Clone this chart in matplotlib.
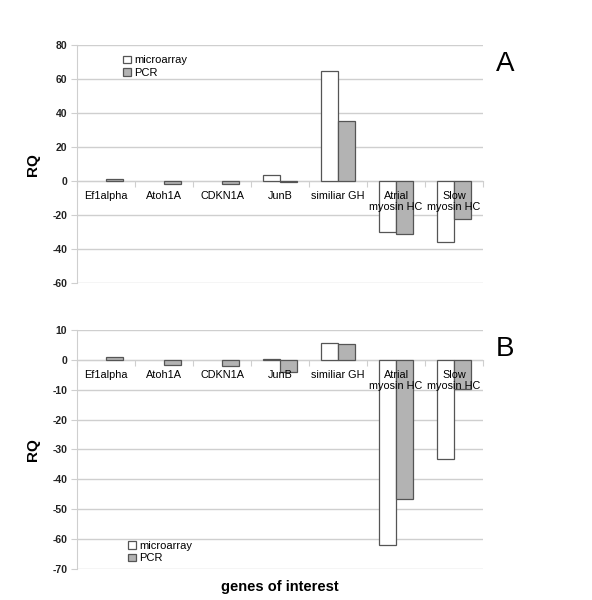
import numpy as np
import matplotlib
matplotlib.use("Agg")
import matplotlib.pyplot as plt
from matplotlib.patches import Patch

plt.rcParams['font.family'] = ['Liberation Sans', 'DejaVu Sans']

# --- Data ---
genes = ["Ef1alpha", "Atoh1A", "CDKN1A", "JunB", "similiar GH",
         "Atrial\nmyosin HC", "Slow\nmyosin HC"]

a_microarray = [0, 0, 0, 3.5, 64.5, -30.2, -36]
a_pcr = [1.2, -1.6, -1.9, -0.8, 35.2, -31.2, -22]

b_microarray = [0, 0, 0, 0.3, 5.6, -62, -33.3]
b_pcr = [1.1, -1.8, -2.1, -3.9, 5.4, -46.6, -9.9]

a_ticks = [-60, -40, -20, 0, 20, 40, 60, 80]
b_ticks = [-70, -60, -50, -40, -30, -20, -10, 0, 10]

# --- Style ---
white_fill = "#ffffff"
grey_fill = "#b3b3b3"
edge_col = "#555555"
grid_col = "#cfcfcf"
bar_w = 0.29

fig = plt.figure(figsize=(5.92, 6.0), dpi=100)
ax_a = fig.add_axes([0.130, 0.528, 0.686, 0.397])
ax_b = fig.add_axes([0.130, 0.0517, 0.686, 0.3983])


def draw_panel(ax, micro, pcr, ticks, letter, legend_anchor):
    x = np.arange(len(genes))
    # zero-height bars are not drawn in the original
    lw_micro = [0 if v == 0 else 0.9 for v in micro]
    lw_pcr = [0 if v == 0 else 0.9 for v in pcr]
    ax.bar(x - bar_w / 2, micro, bar_w, color=white_fill, edgecolor=edge_col,
           linewidth=lw_micro, zorder=3)
    ax.bar(x + bar_w / 2, pcr, bar_w, color=grey_fill, edgecolor=edge_col,
           linewidth=lw_pcr, zorder=3)

    ax.set_xlim(-0.5, len(genes) - 0.5)
    ax.set_ylim(ticks[0], ticks[-1])
    ax.set_yticks(ticks)
    ax.set_yticklabels([str(t) for t in ticks], fontsize=7.5, fontweight="bold",
                       color="#222222")
    ax.yaxis.grid(True, color=grid_col, linewidth=1.0, zorder=0)
    ax.set_axisbelow(True)

    # zero line acts as the category axis
    ax.spines["bottom"].set_position(("data", 0))
    ax.spines["bottom"].set_color(grid_col)
    ax.spines["left"].set_color(grid_col)
    ax.spines["top"].set_visible(False)
    ax.spines["right"].set_visible(False)
    ax.set_xticks(np.arange(-0.5, len(genes), 1.0))
    ax.set_xticklabels([])
    ax.tick_params(axis="x", direction="out", length=4, color=grid_col)
    ax.tick_params(axis="y", direction="out", length=4, color=grid_col, pad=3)

    for i, g in enumerate(genes):
        ax.annotate(g, xy=(i, 0), xytext=(0, -7), textcoords="offset points",
                    ha="center", va="top", fontsize=7.8, linespacing=1.15,
                    zorder=5)

    ax.set_ylabel("RQ", fontsize=11, fontweight="bold", labelpad=9)
    ax.text(1.055, 0.92, letter, transform=ax.transAxes, fontsize=20,
            ha="center", va="center")

    handles = [Patch(facecolor=white_fill, edgecolor=edge_col, linewidth=0.9,
                     label="microarray"),
               Patch(facecolor=grey_fill, edgecolor=edge_col, linewidth=0.9,
                     label="PCR")]
    leg = ax.legend(handles=handles, loc="upper left",
                    bbox_to_anchor=legend_anchor, frameon=False, fontsize=8,
                    handlelength=0.7, handleheight=0.7, handletextpad=0.3,
                    labelspacing=0.2, borderpad=0)
    return leg


draw_panel(ax_a, a_microarray, a_pcr, a_ticks, "A", (0.1, 0.98))
draw_panel(ax_b, b_microarray, b_pcr, b_ticks, "B", (0.113, 0.14))

ax_b.set_xlabel("genes of interest", fontsize=10.5, fontweight="bold")
ax_b.xaxis.set_label_coords(0.5, -0.045)

fig.savefig("out.png", dpi=100)
